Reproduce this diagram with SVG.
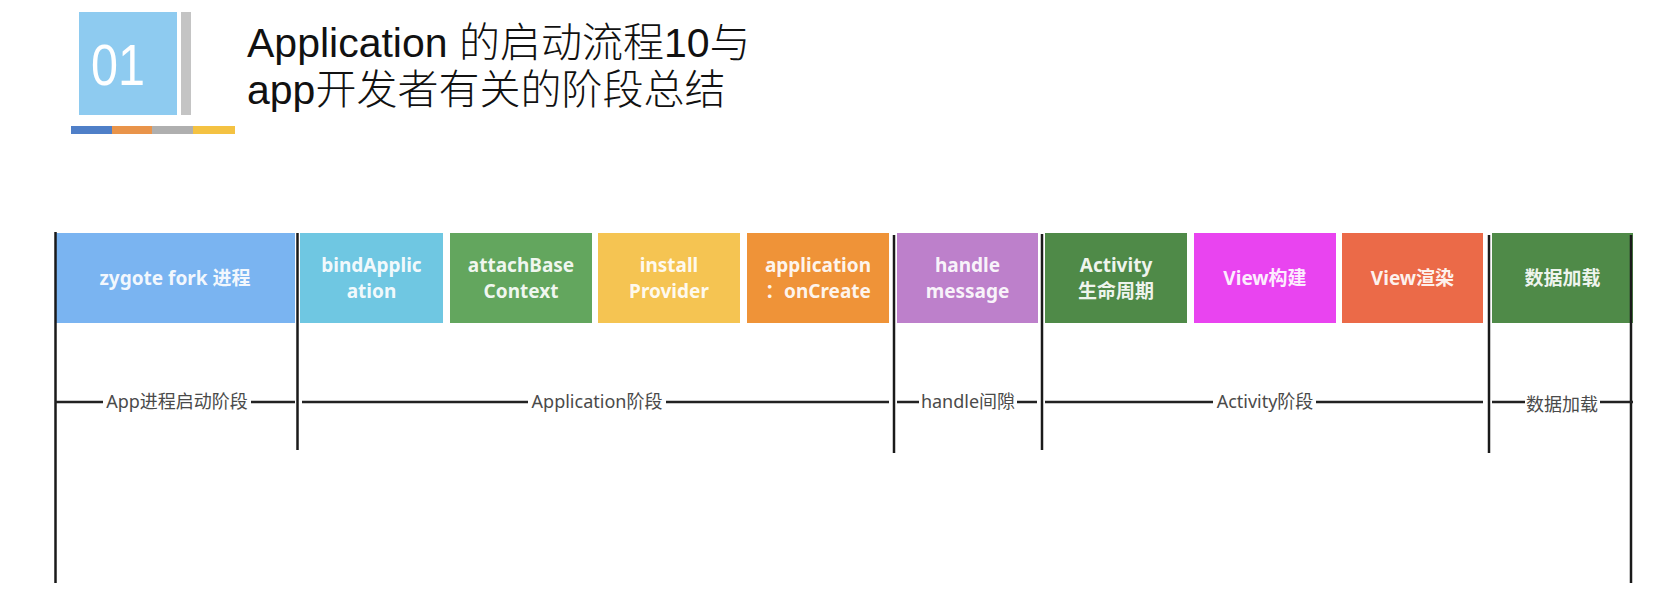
<svg xmlns="http://www.w3.org/2000/svg" width="1656" height="614" viewBox="0 0 1656 614">
<style>
.title{font-family:"Liberation Sans","Noto Sans CJK SC",sans-serif;font-size:41px;font-weight:300;fill:#111}
.box text{font-family:"Noto Sans","Noto Sans CJK SC",sans-serif;font-size:19px;font-weight:bold;fill:#ffffff;fill-opacity:0.92;text-anchor:middle}
.lbl{font-family:"Noto Sans","Noto Sans CJK SC",sans-serif;font-size:18px;fill:#4a4a4a;text-anchor:middle}
.v{stroke:#1a1a1a;stroke-width:2.5;fill:none}
.h{stroke:#222;stroke-width:2.5;fill:none}
</style>
<rect width="1656" height="614" fill="#ffffff"/>
<g id="header">
<rect x="79" y="12" width="98" height="103" fill="#8ecbf0"/>
<rect x="181" y="12" width="10" height="103" fill="#c4c4c4"/>
<text x="118" y="85" font-family="Liberation Sans,sans-serif" font-size="58" fill="#ffffff" text-anchor="middle" textLength="54" lengthAdjust="spacingAndGlyphs">01</text>
<rect x="71" y="126" width="41" height="8" fill="#4f7fc8"/>
<rect x="112" y="126" width="40" height="8" fill="#e9944a"/>
<rect x="152" y="126" width="41" height="8" fill="#afafaf"/>
<rect x="193" y="126" width="42" height="8" fill="#f4c242"/>
<text class="title" x="247" y="57">Application 的启动流程10与</text>
<text class="title" x="247" y="104">app开发者有关的阶段总结</text>
</g>
<g id="n-zygote" class="box"><rect x="55" y="233" width="240" height="90" fill="#7ab4f1"/><text x="175" y="285">zygote fork 进程</text></g>
<g id="n-bind" class="box"><rect x="300" y="233" width="143" height="90" fill="#6fc7e2"/><text x="371.5" y="272">bindApplic</text><text x="371.5" y="298">ation</text></g>
<g id="n-attach" class="box"><rect x="450" y="233" width="142" height="90" fill="#63a65e"/><text x="521" y="272">attachBase</text><text x="521" y="298">Context</text></g>
<g id="n-install" class="box"><rect x="598" y="233" width="142" height="90" fill="#f5c452"/><text x="669" y="272">install</text><text x="669" y="298">Provider</text></g>
<g id="n-oncreate" class="box"><rect x="747" y="233" width="142" height="90" fill="#ef9338"/><text x="818" y="272">application</text><text x="818" y="298">：onCreate</text></g>
<g id="n-handle" class="box"><rect x="897" y="233" width="141" height="90" fill="#bd80cb"/><text x="967.5" y="272">handle</text><text x="967.5" y="298">message</text></g>
<g id="n-activity" class="box"><rect x="1045" y="233" width="142" height="90" fill="#4f8a48"/><text x="1116" y="272">Activity</text><text x="1116" y="298">生命周期</text></g>
<g id="n-viewbuild" class="box"><rect x="1194" y="233" width="142" height="90" fill="#e944f0"/><text x="1265" y="285">View构建</text></g>
<g id="n-viewrender" class="box"><rect x="1342" y="233" width="141" height="90" fill="#eb6a48"/><text x="1412.5" y="285">View渲染</text></g>
<g id="n-data" class="box"><rect x="1492" y="233" width="141" height="90" fill="#4f8a48"/><text x="1562.5" y="285">数据加载</text></g>
<g id="connectors">
<line class="v" x1="55.5" y1="232" x2="55.5" y2="583"/>
<line class="v" x1="297.5" y1="233" x2="297.5" y2="450"/>
<line class="v" x1="894" y1="235" x2="894" y2="453"/>
<line class="v" x1="1042" y1="234" x2="1042" y2="450"/>
<line class="v" x1="1489" y1="235" x2="1489" y2="453"/>
<line class="v" x1="1631" y1="235" x2="1631" y2="583"/>
<path class="h" d="M55 402H103M251 402H295"/>
<path class="h" d="M302 402H528M666 402H889"/>
<path class="h" d="M897 402H919M1017 402H1037"/>
<path class="h" d="M1045 402H1213M1316 402H1483"/>
<path class="h" d="M1492 402H1525M1600 402H1633"/>
</g>
<g id="labels">
<text class="lbl" x="177" y="408">App进程启动阶段</text>
<text class="lbl" x="597" y="408">Application阶段</text>
<text class="lbl" x="968" y="408">handle间隙</text>
<text class="lbl" x="1265" y="408">Activity阶段</text>
<text class="lbl" x="1562" y="411">数据加载</text>
</g>
</svg>
